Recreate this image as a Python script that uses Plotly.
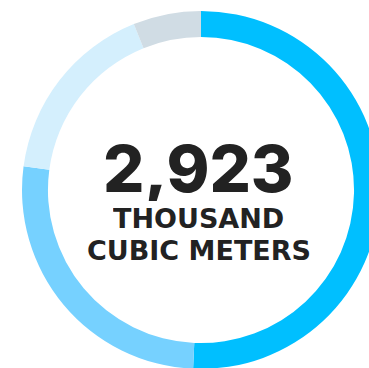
import plotly.graph_objects as go

# Volume by source, thousand cubic meters
categories = ["Source A", "Source B", "Source C", "Other"]
values = [1482, 772, 490, 179]
colors = ["#00BFFF", "#76D1FF", "#D4EFFD", "#D0DCE4"]
total_label = "2,923"
unit_lines = ["THOUSAND", "CUBIC METERS"]

W, H = 380, 369
ML, MT = 22, 11
D = 358  # ring diameter in px


def px_x(px):
    return (px - ML) / D


def px_y(py):
    return 1 - (py - MT) / D


fig = go.Figure(
    go.Pie(
        labels=categories,
        values=values,
        marker=dict(colors=colors, line=dict(width=0)),
        hole=0.855,
        sort=False,
        direction="clockwise",
        rotation=0,
        textinfo="none",
        hoverinfo="label+value",
        showlegend=False,
    )
)

# Centre labels; fixed box heights keep the stacked lines from crowding each other
fig.add_annotation(
    x=px_x(198), y=px_y(168), xref="paper", yref="paper",
    text=total_label, showarrow=False, xanchor="center", yanchor="middle",
    height=66, valign="middle",
    font=dict(family="Inter", size=65, color="#222222", weight=800),
)
fig.add_annotation(
    x=px_x(198.5), y=px_y(217.5), xref="paper", yref="paper",
    text=unit_lines[0], showarrow=False, xanchor="center", yanchor="middle",
    height=26, valign="middle",
    font=dict(family="DejaVu Sans", size=27, color="#222222", weight=700),
)
fig.add_annotation(
    x=px_x(198.5), y=px_y(250.5), xref="paper", yref="paper",
    text=unit_lines[1], showarrow=False, xanchor="center", yanchor="middle",
    height=26, valign="middle",
    font=dict(family="DejaVu Sans", size=27, color="#222222", weight=700),
)

fig.update_layout(
    width=W, height=H,
    margin=dict(l=ML, r=W - ML - D, t=MT, b=H - MT - D, pad=0),
    paper_bgcolor="white",
    plot_bgcolor="white",
)

fig.write_html(
    "out.html",
    config={"displayModeBar": False},
    post_script="document.documentElement.style.overflow='hidden';document.body.style.overflow='hidden';document.body.style.margin='0';",
)
